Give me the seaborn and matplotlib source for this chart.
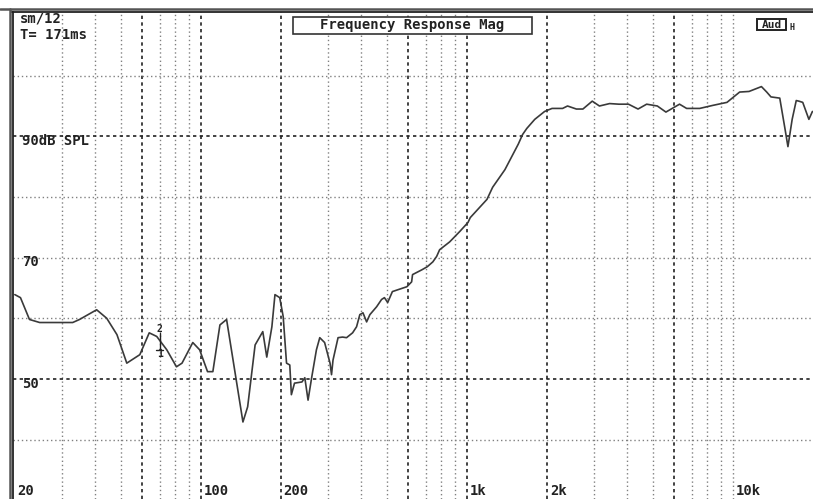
import matplotlib
matplotlib.use("Agg")
import matplotlib.pyplot as plt
import seaborn as sns
from matplotlib.lines import Line2D
from matplotlib.patches import Rectangle
from matplotlib.ticker import NullFormatter, FixedLocator

sns.set_theme(style="white")
plt.rcParams['font.family'] = ['DejaVu Sans Mono', 'DejaVu Sans']

freq = [20, 21, 22.7, 24.8, 33, 35, 40.6, 44.3, 48.4, 52.7,
        59, 64, 68.3, 74.5, 81, 85, 93.3, 99, 106, 111,
        118, 125, 134, 144, 150, 160, 171, 177, 185, 190,
        198, 204, 210, 216, 219, 225, 240, 246, 253, 261,
        272, 280, 292, 306, 310, 314, 328, 341, 353, 372,
        385, 396, 407, 420, 432, 458, 478, 490, 504, 525,
        550, 595, 620, 625, 678, 710, 745, 770, 790, 862,
        940, 1010, 1030, 1190, 1250, 1390, 1560, 1620, 1680, 1800,
        1960, 2090, 2290, 2390, 2580, 2730, 2960, 3150, 3440, 3730,
        4050, 4400, 4740, 5200, 5600, 6300, 6700, 7500, 8400, 9500,
        10600, 11500, 12800, 13400, 13900, 15000, 15700, 16100, 16700, 17300,
        17700, 18300, 19300, 19900]
spl = [63.9, 63.4, 59.8, 59.3, 59.3, 59.8, 61.4, 60.0, 57.3, 52.6,
       54.0, 57.6, 57.0, 54.8, 52.0, 52.6, 56.0, 54.8, 51.2, 51.2,
       58.9, 59.8, 51.5, 42.9, 45.4, 55.6, 57.8, 53.6, 58.6, 63.9,
       63.4, 60.3, 52.6, 52.3, 47.4, 49.3, 49.5, 50.2, 46.5, 50.2,
       54.8, 56.8, 56.0, 52.6, 50.7, 53.1, 56.8, 56.9, 56.8, 57.6,
       58.6, 60.6, 60.9, 59.4, 60.6, 61.9, 63.1, 63.4, 62.6, 64.4,
       64.7, 65.2, 66.0, 67.2, 68.0, 68.5, 69.3, 70.2, 71.3, 72.6,
       74.3, 75.8, 76.6, 79.6, 81.6, 84.5, 88.7, 90.3, 91.3, 92.8,
       94.1, 94.6, 94.6, 95.0, 94.5, 94.5, 95.8, 95.0, 95.4, 95.3,
       95.3, 94.5, 95.3, 95.0, 94.0, 95.3, 94.6, 94.6, 95.1, 95.6,
       97.3, 97.4, 98.2, 97.3, 96.5, 96.3, 91.2, 88.3, 92.8, 95.9,
       95.8, 95.6, 92.8, 94.1]

xtick_vals = [20, 100, 200, 1000, 2000, 10000]
xtick_labels = ["20", "100", "200", "1k", "2k", "10k"]
ylab_vals = [90, 70, 50]
ylab_texts = ["90dB SPL", "70", "50"]

grid_x_heavy = [60, 100, 200, 600, 1000, 2000, 6000]
grid_x_light = [30, 40, 50, 70, 80, 90, 300, 400, 500, 700, 800, 900,
                3000, 4000, 5000, 7000, 8000, 9000, 10000]
grid_y_heavy = [50, 90]
grid_y_light = [40, 60, 70, 80, 100]

marker_freq = 70
marker_lo, marker_hi = 54.8, 57.6

W, H = 813, 499
fig = plt.figure(figsize=(W / 100, H / 100), dpi=100)
ax = fig.add_axes([12.5 / W, 0, 1 - 12.5 / W, (H - 12) / H])
ax.set_xscale("log")
ax.set_xlim(19.6, 20000)
ax.set_ylim(30.2, 110.5)

ax.xaxis.set_major_locator(FixedLocator(grid_x_heavy))
ax.xaxis.set_minor_locator(FixedLocator(grid_x_light))
ax.yaxis.set_major_locator(FixedLocator(grid_y_heavy))
ax.yaxis.set_minor_locator(FixedLocator(grid_y_light))
for a in (ax.xaxis, ax.yaxis):
    a.set_major_formatter(NullFormatter())
    a.set_minor_formatter(NullFormatter())
ax.tick_params(which="both", length=0)
ax.grid(which="major", color="#222222", linestyle=(0, (2, 2)), linewidth=1.2)
ax.grid(which="minor", color="#808080", linestyle=(0, (1, 2)), linewidth=1.0)

sns.lineplot(x=freq, y=spl, ax=ax, color="#3a3a3a", linewidth=1.2,
             estimator=None, sort=False)

for s in ("right", "bottom"):
    ax.spines[s].set_visible(False)
for s in ("top", "left"):
    ax.spines[s].set_color("#222222")
    ax.spines[s].set_linewidth(1.3)

# marker cursor
ax.plot([marker_freq, marker_freq], [marker_lo, marker_hi], color="#222222", lw=1)
ax.plot([marker_freq * 0.97, marker_freq * 1.03], [marker_lo, marker_lo], color="#222222", lw=1)
ax.text(marker_freq, marker_hi - 0.2, "2", fontsize=7, fontweight="bold",
        ha="center", va="bottom", color="#222222")
ax.text(marker_freq, marker_lo + 0.1, "1", fontsize=7, fontweight="bold",
        ha="center", va="top", color="#222222")

# axis labels drawn inside the plot
for v, t in zip(xtick_vals, xtick_labels):
    ax.text(v * 1.025, 31.6, t, fontsize=10, fontweight="bold",
            ha="left", va="center", color="#222222")
for v, t in zip(ylab_vals, ylab_texts):
    ax.text(21.3, v - 0.8, t, fontsize=10, fontweight="bold",
            ha="left", va="center", color="#222222")

# outer frame lines
fig.add_artist(Line2D([0, 1], [1 - 9 / H, 1 - 9 / H], color="#555555", lw=1.8))
fig.add_artist(Line2D([9.5 / W, 9.5 / W], [0, 1 - 9 / H], color="#555555", lw=1.8))

def px(x, y):
    return x / W, 1 - y / H

fig.text(*px(20, 19), "sm/12", fontsize=10, fontweight="bold",
         ha="left", va="center", color="#222222")
fig.text(*px(20, 35), "T= 171ms", fontsize=10, fontweight="bold",
         ha="left", va="center", color="#222222")

x0, y0 = px(293, 34)
fig.add_artist(Rectangle((x0, y0), 239 / W, 17 / H, transform=fig.transFigure,
                         facecolor="white", edgecolor="#333333", lw=1.2))
fig.text(*px(412, 25.5), "Frequency Response Mag", fontsize=10, fontweight="bold",
         ha="center", va="center", color="#222222")

x0, y0 = px(757, 30)
fig.add_artist(Rectangle((x0, y0), 29 / W, 11 / H, transform=fig.transFigure,
                         facecolor="white", edgecolor="#222222", lw=1.4))
fig.text(*px(771.5, 24.5), "Aud", fontsize=8, fontweight="bold",
         ha="center", va="center", color="#222222")
fig.text(*px(789, 27), "H", fontsize=6, fontweight="bold",
         ha="left", va="center", color="#222222")

fig.savefig("out.png", dpi=100)
